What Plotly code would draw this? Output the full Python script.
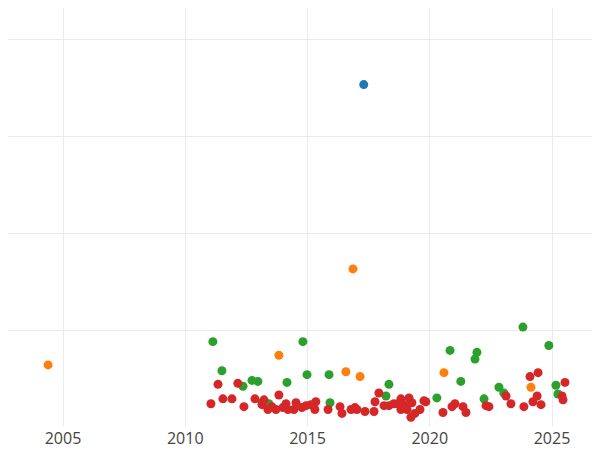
import plotly.graph_objects as go

blue_x = [2017.30]
blue_y = [3.53]
orange_x = [2004.39, 2013.83, 2016.86, 2016.57, 2017.15, 2020.58, 2024.14]
orange_y = [0.64, 0.74, 1.63, 0.57, 0.52, 0.56, 0.41]
green_x = [2011.13, 2011.50, 2012.36, 2012.73, 2012.97, 2014.16, 2014.81, 2014.98, 2015.88, 2015.92,
           2018.21, 2018.33, 2020.29, 2020.83, 2021.27, 2021.85, 2021.93, 2022.22, 2022.83, 2023.03,
           2023.81, 2024.87, 2025.16, 2025.24, 2013.42, 2013.14]
green_y = [0.88, 0.58, 0.42, 0.48, 0.47, 0.46, 0.88, 0.54, 0.54, 0.25,
           0.32, 0.44, 0.30, 0.79, 0.47, 0.70, 0.77, 0.29, 0.41, 0.35,
           1.03, 0.84, 0.43, 0.34, 0.24, 0.25]
red_x = [2011.05, 2011.34, 2011.54, 2011.91, 2012.15, 2012.40, 2012.85, 2013.14, 2013.22, 2013.38,
         2013.54, 2013.71, 2013.83, 2013.99, 2014.12, 2014.20, 2014.44, 2014.53, 2014.77, 2014.94,
         2015.14, 2015.30, 2015.34, 2015.84, 2016.33, 2016.41, 2016.78, 2016.94, 2017.02, 2017.35,
         2017.72, 2017.76, 2017.92, 2018.13, 2018.33, 2018.53, 2018.70, 2018.82, 2018.82, 2018.94,
         2019.07, 2019.15, 2019.23, 2019.27, 2019.39, 2019.60, 2019.76, 2019.84, 2020.54, 2020.91,
         2021.03, 2021.36, 2021.48, 2022.30, 2022.42, 2023.12, 2023.32, 2023.85, 2024.10, 2024.22,
         2024.39, 2024.43, 2024.55, 2025.41, 2025.45, 2025.53]
red_y = [0.24, 0.44, 0.29, 0.29, 0.45, 0.21, 0.29, 0.23, 0.28, 0.18,
         0.21, 0.18, 0.33, 0.20, 0.24, 0.18, 0.18, 0.25, 0.20, 0.22,
         0.23, 0.18, 0.26, 0.18, 0.21, 0.14, 0.18, 0.20, 0.18, 0.16,
         0.16, 0.26, 0.35, 0.22, 0.22, 0.24, 0.24, 0.29, 0.18, 0.23,
         0.18, 0.30, 0.10, 0.25, 0.14, 0.18, 0.27, 0.26, 0.15, 0.21,
         0.24, 0.21, 0.15, 0.22, 0.21, 0.32, 0.24, 0.21, 0.52, 0.26,
         0.32, 0.56, 0.23, 0.32, 0.28, 0.46]
x_ticks = [2005, 2010, 2015, 2020, 2025]

fig = go.Figure()
for xs, ys, c in [(blue_x, blue_y, "#1f77b4"), (orange_x, orange_y, "#ff7f0e"),
                  (green_x, green_y, "#2ca02c"), (red_x, red_y, "#d62728")]:
    fig.add_trace(go.Scatter(x=xs, y=ys, mode="markers",
                             marker=dict(color=c, size=9)))

fig.update_layout(
    width=600, height=450, showlegend=False,
    margin=dict(l=0, r=0, t=0, b=31),
    plot_bgcolor="white", paper_bgcolor="white",
    font=dict(family="Open Sans", color="#444", size=16),
    xaxis=dict(range=[2002.75, 2027.29], tickvals=x_ticks, showgrid=True,
               gridcolor="#ebebeb", zeroline=False, showline=False, ticks=""),
    yaxis=dict(range=[0, 4.32], tickvals=[1, 2, 3, 4], showticklabels=False,
               showgrid=True, gridcolor="#ebebeb", zeroline=False, showline=False),
)
fig.write_html("out.html")
